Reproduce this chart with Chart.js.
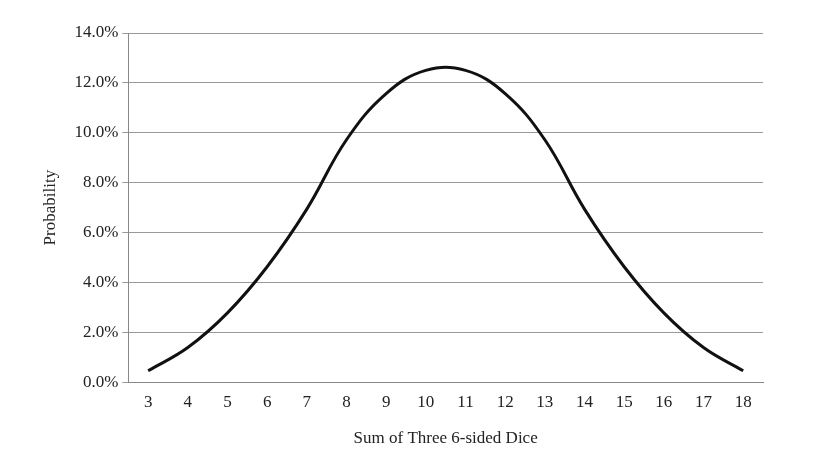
<!DOCTYPE html>
<html>
<head>
<meta charset="utf-8">
<script src="https://cdn.jsdelivr.net/npm/chart.js@4"></script>
<style>
  body { margin: 0; background: #fff; }
  #wrap { width: 838px; height: 462px; }
</style>
</head>
<body>
<div id="wrap"><canvas id="diceChart"></canvas></div>
<script>
// sums of three dice and their probabilities (%)
const sums = ["3", "4", "5", "6", "7", "8", "9", "10", "11", "12", "13", "14", "15", "16", "17", "18"];
const probabilities = [0.46, 1.39, 2.78, 4.63, 6.94, 9.72, 11.57, 12.5, 12.5, 11.57, 9.72, 6.94, 4.63, 2.78, 1.39, 0.46];

Chart.defaults.font.family = "'Liberation Serif', 'DejaVu Serif', serif";
Chart.defaults.font.size = 17;
Chart.defaults.color = "#222";

const ctx = document.getElementById("diceChart").getContext("2d");
new Chart(ctx, {
  type: "line",
  data: {
    labels: sums,
    datasets: [
      {
        data: probabilities,
        borderColor: "#111",
        borderWidth: 3,
        pointRadius: 0,
        tension: 0.4,
        fill: false,
      },
    ],
  },
  options: {
    responsive: true,
    maintainAspectRatio: false,
    animation: false,
    layout: { padding: { left: 36, right: 75, top: 33, bottom: 9 } },
    plugins: { legend: { display: false }, tooltip: { enabled: false } },
    scales: {
      x: {
        offset: true,
        grid: { display: false, drawTicks: true, tickLength: 6, color: "#888" },
        border: { color: "#888" },
        ticks: { maxRotation: 0, padding: 4 },
        title: { display: true, text: "Sum of Three 6-sided Dice", padding: { top: 12 } },
      },
      y: {
        min: 0,
        max: 14,
        grid: { color: "#999", drawTicks: true, tickLength: 6 },
        border: { color: "#888" },
        ticks: { stepSize: 2, callback: (v) => v.toFixed(1) + "%", padding: 4 },
        title: { display: true, text: "Probability", padding: { bottom: 10 } },
      },
    },
  },
});
</script>
</body>
</html>
